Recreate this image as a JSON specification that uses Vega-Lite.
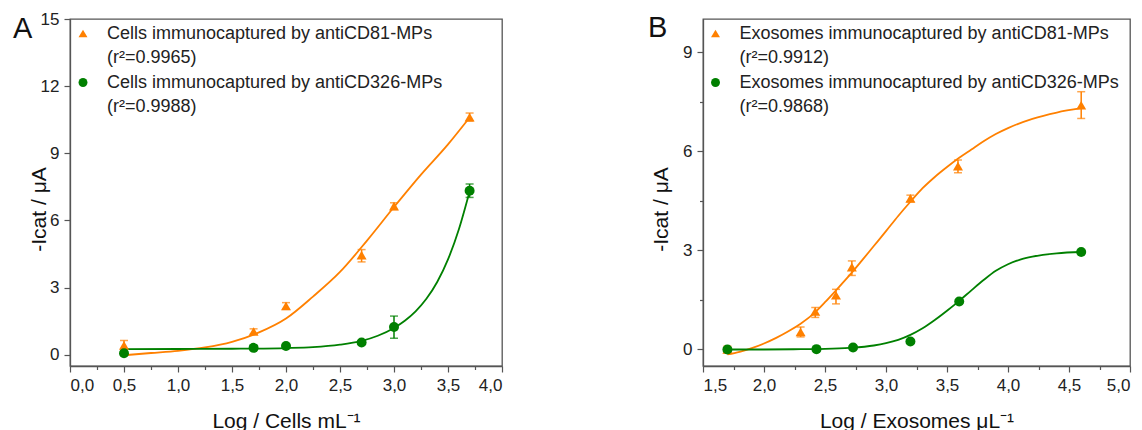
{
  "$schema": "https://vega.github.io/schema/vega-lite/v6.json",
  "background": "white",
  "padding": {"left": 12, "top": 9, "right": 5, "bottom": 0},
  "bounds": "flush",
  "spacing": 201,
  "config": {
    "font": "Liberation Sans",
    "view": {"stroke": "#555555", "strokeWidth": 1.3},
    "axis": {
      "domainColor": "#555555", "domainWidth": 1.3,
      "tickColor": "#555555", "tickWidth": 1.2,
      "labelColor": "#222222", "labelFontSize": 17, "labelPadding": 5,
      "titleColor": "#111111", "titleFontSize": 21, "titleFontWeight": "normal",
      "grid": false
    },
    "legend": {"orient": "none", "title": null, "labelFontSize": 18, "labelColor": "#222222", "labelLimit": 700, "symbolSize": 80, "symbolStrokeWidth": 0, "symbolOpacity": 1, "rowPadding": 6.5, "labelOffset": 15, "padding": 0}
  },
  "datasets": {
    "ptsA": [
      {"series": "Cells immunocaptured by antiCD81-MPs", "x": 0.5, "y": 0.42, "lo": 0.2, "hi": 0.64},
      {"series": "Cells immunocaptured by antiCD81-MPs", "x": 1.7, "y": 1.04, "lo": 0.92, "hi": 1.16},
      {"series": "Cells immunocaptured by antiCD81-MPs", "x": 2.0, "y": 2.18, "lo": 2.03, "hi": 2.33},
      {"series": "Cells immunocaptured by antiCD81-MPs", "x": 2.7, "y": 4.45, "lo": 4.15, "hi": 4.7},
      {"series": "Cells immunocaptured by antiCD81-MPs", "x": 3.0, "y": 6.64, "lo": 6.49, "hi": 6.79},
      {"series": "Cells immunocaptured by antiCD81-MPs", "x": 3.7, "y": 10.61, "lo": 10.44, "hi": 10.8},
      {"series": "Cells immunocaptured by antiCD326-MPs", "x": 0.5, "y": 0.07, "lo": null, "hi": null},
      {"series": "Cells immunocaptured by antiCD326-MPs", "x": 1.7, "y": 0.31, "lo": 0.2, "hi": 0.42},
      {"series": "Cells immunocaptured by antiCD326-MPs", "x": 2.0, "y": 0.39, "lo": null, "hi": null},
      {"series": "Cells immunocaptured by antiCD326-MPs", "x": 2.7, "y": 0.55, "lo": null, "hi": null},
      {"series": "Cells immunocaptured by antiCD326-MPs", "x": 3.0, "y": 1.24, "lo": 0.74, "hi": 1.73},
      {"series": "Cells immunocaptured by antiCD326-MPs", "x": 3.7, "y": 7.33, "lo": 7.03, "hi": 7.63}
    ],
    "fitA": [
      {"series": "Cells immunocaptured by antiCD81-MPs", "x": 0.5, "y": -0.02},
      {"series": "Cells immunocaptured by antiCD81-MPs", "x": 0.75, "y": 0.08},
      {"series": "Cells immunocaptured by antiCD81-MPs", "x": 1.0, "y": 0.18},
      {"series": "Cells immunocaptured by antiCD81-MPs", "x": 1.25, "y": 0.33},
      {"series": "Cells immunocaptured by antiCD81-MPs", "x": 1.5, "y": 0.58},
      {"series": "Cells immunocaptured by antiCD81-MPs", "x": 1.75, "y": 1.0},
      {"series": "Cells immunocaptured by antiCD81-MPs", "x": 2.0, "y": 1.62},
      {"series": "Cells immunocaptured by antiCD81-MPs", "x": 2.25, "y": 2.6},
      {"series": "Cells immunocaptured by antiCD81-MPs", "x": 2.5, "y": 3.7},
      {"series": "Cells immunocaptured by antiCD81-MPs", "x": 2.75, "y": 5.1},
      {"series": "Cells immunocaptured by antiCD81-MPs", "x": 3.0, "y": 6.6},
      {"series": "Cells immunocaptured by antiCD81-MPs", "x": 3.25, "y": 8.05},
      {"series": "Cells immunocaptured by antiCD81-MPs", "x": 3.5, "y": 9.4},
      {"series": "Cells immunocaptured by antiCD81-MPs", "x": 3.7, "y": 10.6},
      {"series": "Cells immunocaptured by antiCD326-MPs", "x": 0.5, "y": 0.25},
      {"series": "Cells immunocaptured by antiCD326-MPs", "x": 1.0, "y": 0.26},
      {"series": "Cells immunocaptured by antiCD326-MPs", "x": 1.5, "y": 0.27},
      {"series": "Cells immunocaptured by antiCD326-MPs", "x": 2.0, "y": 0.3},
      {"series": "Cells immunocaptured by antiCD326-MPs", "x": 2.25, "y": 0.34},
      {"series": "Cells immunocaptured by antiCD326-MPs", "x": 2.5, "y": 0.45},
      {"series": "Cells immunocaptured by antiCD326-MPs", "x": 2.7, "y": 0.62},
      {"series": "Cells immunocaptured by antiCD326-MPs", "x": 2.85, "y": 0.85},
      {"series": "Cells immunocaptured by antiCD326-MPs", "x": 3.0, "y": 1.2},
      {"series": "Cells immunocaptured by antiCD326-MPs", "x": 3.1, "y": 1.52},
      {"series": "Cells immunocaptured by antiCD326-MPs", "x": 3.2, "y": 1.94},
      {"series": "Cells immunocaptured by antiCD326-MPs", "x": 3.3, "y": 2.5},
      {"series": "Cells immunocaptured by antiCD326-MPs", "x": 3.4, "y": 3.25},
      {"series": "Cells immunocaptured by antiCD326-MPs", "x": 3.5, "y": 4.26},
      {"series": "Cells immunocaptured by antiCD326-MPs", "x": 3.6, "y": 5.6},
      {"series": "Cells immunocaptured by antiCD326-MPs", "x": 3.7, "y": 7.3}
    ],
    "ptsB": [
      {"series": "Exosomes immunocaptured by antiCD81-MPs", "x": 1.7, "y": 0.0, "lo": -0.1, "hi": 0.1},
      {"series": "Exosomes immunocaptured by antiCD81-MPs", "x": 2.3, "y": 0.53, "lo": 0.38, "hi": 0.68},
      {"series": "Exosomes immunocaptured by antiCD81-MPs", "x": 2.42, "y": 1.15, "lo": 0.97, "hi": 1.27},
      {"series": "Exosomes immunocaptured by antiCD81-MPs", "x": 2.59, "y": 1.64, "lo": 1.38, "hi": 1.82},
      {"series": "Exosomes immunocaptured by antiCD81-MPs", "x": 2.72, "y": 2.49, "lo": 2.24, "hi": 2.68},
      {"series": "Exosomes immunocaptured by antiCD81-MPs", "x": 3.2, "y": 4.57, "lo": 4.47, "hi": 4.67},
      {"series": "Exosomes immunocaptured by antiCD81-MPs", "x": 3.59, "y": 5.55, "lo": 5.35, "hi": 5.73},
      {"series": "Exosomes immunocaptured by antiCD81-MPs", "x": 4.6, "y": 7.39, "lo": 6.99, "hi": 7.8},
      {"series": "Exosomes immunocaptured by antiCD326-MPs", "x": 1.7, "y": 0.0, "lo": null, "hi": null},
      {"series": "Exosomes immunocaptured by antiCD326-MPs", "x": 2.43, "y": 0.01, "lo": null, "hi": null},
      {"series": "Exosomes immunocaptured by antiCD326-MPs", "x": 2.73, "y": 0.06, "lo": null, "hi": null},
      {"series": "Exosomes immunocaptured by antiCD326-MPs", "x": 3.2, "y": 0.24, "lo": null, "hi": null},
      {"series": "Exosomes immunocaptured by antiCD326-MPs", "x": 3.6, "y": 1.45, "lo": null, "hi": null},
      {"series": "Exosomes immunocaptured by antiCD326-MPs", "x": 4.6, "y": 2.95, "lo": null, "hi": null}
    ],
    "fitB": [
      {"series": "Exosomes immunocaptured by antiCD81-MPs", "x": 1.7, "y": -0.15},
      {"series": "Exosomes immunocaptured by antiCD81-MPs", "x": 1.8, "y": -0.07},
      {"series": "Exosomes immunocaptured by antiCD81-MPs", "x": 1.9, "y": 0.04},
      {"series": "Exosomes immunocaptured by antiCD81-MPs", "x": 2.0, "y": 0.18},
      {"series": "Exosomes immunocaptured by antiCD81-MPs", "x": 2.1, "y": 0.35},
      {"series": "Exosomes immunocaptured by antiCD81-MPs", "x": 2.2, "y": 0.55},
      {"series": "Exosomes immunocaptured by antiCD81-MPs", "x": 2.3, "y": 0.78},
      {"series": "Exosomes immunocaptured by antiCD81-MPs", "x": 2.4, "y": 1.06},
      {"series": "Exosomes immunocaptured by antiCD81-MPs", "x": 2.5, "y": 1.43},
      {"series": "Exosomes immunocaptured by antiCD81-MPs", "x": 2.6, "y": 1.83},
      {"series": "Exosomes immunocaptured by antiCD81-MPs", "x": 2.7, "y": 2.24},
      {"series": "Exosomes immunocaptured by antiCD81-MPs", "x": 2.8, "y": 2.68},
      {"series": "Exosomes immunocaptured by antiCD81-MPs", "x": 2.9, "y": 3.13},
      {"series": "Exosomes immunocaptured by antiCD81-MPs", "x": 3.0, "y": 3.58},
      {"series": "Exosomes immunocaptured by antiCD81-MPs", "x": 3.1, "y": 4.04},
      {"series": "Exosomes immunocaptured by antiCD81-MPs", "x": 3.2, "y": 4.47},
      {"series": "Exosomes immunocaptured by antiCD81-MPs", "x": 3.3, "y": 4.88},
      {"series": "Exosomes immunocaptured by antiCD81-MPs", "x": 3.4, "y": 5.22},
      {"series": "Exosomes immunocaptured by antiCD81-MPs", "x": 3.5, "y": 5.52},
      {"series": "Exosomes immunocaptured by antiCD81-MPs", "x": 3.6, "y": 5.8},
      {"series": "Exosomes immunocaptured by antiCD81-MPs", "x": 3.7, "y": 6.05},
      {"series": "Exosomes immunocaptured by antiCD81-MPs", "x": 3.8, "y": 6.3},
      {"series": "Exosomes immunocaptured by antiCD81-MPs", "x": 3.9, "y": 6.52},
      {"series": "Exosomes immunocaptured by antiCD81-MPs", "x": 4.0, "y": 6.7},
      {"series": "Exosomes immunocaptured by antiCD81-MPs", "x": 4.2, "y": 6.98},
      {"series": "Exosomes immunocaptured by antiCD81-MPs", "x": 4.4, "y": 7.17},
      {"series": "Exosomes immunocaptured by antiCD81-MPs", "x": 4.6, "y": 7.3},
      {"series": "Exosomes immunocaptured by antiCD326-MPs", "x": 1.7, "y": 0.0},
      {"series": "Exosomes immunocaptured by antiCD326-MPs", "x": 2.0, "y": 0.0},
      {"series": "Exosomes immunocaptured by antiCD326-MPs", "x": 2.3, "y": 0.01},
      {"series": "Exosomes immunocaptured by antiCD326-MPs", "x": 2.5, "y": 0.02},
      {"series": "Exosomes immunocaptured by antiCD326-MPs", "x": 2.7, "y": 0.05},
      {"series": "Exosomes immunocaptured by antiCD326-MPs", "x": 2.9, "y": 0.12},
      {"series": "Exosomes immunocaptured by antiCD326-MPs", "x": 3.0, "y": 0.19},
      {"series": "Exosomes immunocaptured by antiCD326-MPs", "x": 3.1, "y": 0.29},
      {"series": "Exosomes immunocaptured by antiCD326-MPs", "x": 3.2, "y": 0.44},
      {"series": "Exosomes immunocaptured by antiCD326-MPs", "x": 3.3, "y": 0.64},
      {"series": "Exosomes immunocaptured by antiCD326-MPs", "x": 3.4, "y": 0.89},
      {"series": "Exosomes immunocaptured by antiCD326-MPs", "x": 3.5, "y": 1.17},
      {"series": "Exosomes immunocaptured by antiCD326-MPs", "x": 3.6, "y": 1.47},
      {"series": "Exosomes immunocaptured by antiCD326-MPs", "x": 3.7, "y": 1.79},
      {"series": "Exosomes immunocaptured by antiCD326-MPs", "x": 3.8, "y": 2.1},
      {"series": "Exosomes immunocaptured by antiCD326-MPs", "x": 3.9, "y": 2.38},
      {"series": "Exosomes immunocaptured by antiCD326-MPs", "x": 4.0, "y": 2.58},
      {"series": "Exosomes immunocaptured by antiCD326-MPs", "x": 4.1, "y": 2.72},
      {"series": "Exosomes immunocaptured by antiCD326-MPs", "x": 4.2, "y": 2.81},
      {"series": "Exosomes immunocaptured by antiCD326-MPs", "x": 4.4, "y": 2.91},
      {"series": "Exosomes immunocaptured by antiCD326-MPs", "x": 4.6, "y": 2.95}
    ]
  },
  "hconcat": [
    {
      "width": 432,
      "height": 347,
      "title": {"text": "A", "anchor": "start", "frame": "group", "fontSize": 29, "fontWeight": "normal", "color": "#111111", "baseline": "alphabetic", "offset": -57, "dx": -57},
      "encoding": {
        "x": {"field": "x", "type": "quantitative", "scale": {"domain": [0, 4], "nice": false, "zero": false},
          "title": "Log / Cells mL⁻¹",
          "axis": {"values": [0, 0.25, 0.5, 0.75, 1, 1.25, 1.5, 1.75, 2, 2.25, 2.5, 2.75, 3, 3.25, 3.5, 3.75, 4],
            "labelExpr": "(datum.value * 2) % 1 == 0 ? replace(format(datum.value, '.1f'), '.', ',') : ''",
            "tickSize": {"condition": {"test": "(datum.value * 2) % 1 != 0", "value": 3.5}, "value": 6},
            "titlePadding": 17}},
        "color": {"field": "series", "type": "nominal",
          "scale": {"domain": ["Cells immunocaptured by antiCD81-MPs", " (r²=0.9965)", "Cells immunocaptured by antiCD326-MPs", " (r²=0.9988)"], "range": ["#ff8000", "#ffffff", "#008000", "#ffffff"]},
          "legend": {"legendX": 4, "legendY": 5.5}}
      },
      "layer": [
        {
          "data": {"name": "fitA"},
          "mark": {"type": "line", "interpolate": "monotone", "strokeWidth": 1.8},
          "encoding": {
            "y": {"field": "y", "type": "quantitative", "scale": {"domain": [-0.5, 15], "nice": false, "zero": false},
              "title": "-Icat / μA",
              "axis": {"values": [0, 1.5, 3, 4.5, 6, 7.5, 9, 10.5, 12, 13.5, 15],
                "labelExpr": "datum.value % 3 == 0 ? datum.label : ''",
                "tickSize": {"condition": {"test": "datum.value % 3 != 0", "value": 3.5}, "value": 6},
                "titleX": -21, "titleY": 190}}
          }
        },
        {
          "data": {"name": "ptsA"},
          "mark": {"type": "errorbar", "ticks": {"size": 8}, "thickness": 1.5},
          "encoding": {
            "y": {"field": "lo", "type": "quantitative", "title": "-Icat / μA"},
            "y2": {"field": "hi"}
          }
        },
        {
          "data": {"name": "ptsA"},
          "mark": {"type": "point", "filled": true, "size": 100, "opacity": 1},
          "encoding": {
            "y": {"field": "y", "type": "quantitative", "title": "-Icat / μA"},
            "shape": {"field": "series", "type": "nominal",
              "scale": {"domain": ["Cells immunocaptured by antiCD81-MPs", " (r²=0.9965)", "Cells immunocaptured by antiCD326-MPs", " (r²=0.9988)"], "range": ["triangle-up", "circle", "circle", "circle"]},
              "legend": {"legendX": 4, "legendY": 5.5}}
          }
        }
      ]
    },
    {
      "width": 427,
      "height": 347,
      "title": {"text": "B", "anchor": "start", "frame": "group", "fontSize": 29, "fontWeight": "normal", "color": "#111111", "baseline": "alphabetic", "offset": -47, "dx": -55},
      "encoding": {
        "x": {"field": "x", "type": "quantitative", "scale": {"domain": [1.5, 5], "nice": false, "zero": false},
          "title": "Log / Exosomes μL⁻¹",
          "axis": {"values": [1.5, 1.75, 2, 2.25, 2.5, 2.75, 3, 3.25, 3.5, 3.75, 4, 4.25, 4.5, 4.75, 5],
            "labelExpr": "(datum.value * 2) % 1 == 0 ? replace(format(datum.value, '.1f'), '.', ',') : ''",
            "tickSize": {"condition": {"test": "(datum.value * 2) % 1 != 0", "value": 3.5}, "value": 6},
            "titlePadding": 17}},
        "color": {"field": "series", "type": "nominal",
          "scale": {"domain": ["Exosomes immunocaptured by antiCD81-MPs", "(r²=0.9912)", "Exosomes immunocaptured by antiCD326-MPs", "(r²=0.9868)"], "range": ["#ff8000", "#ffffff", "#008000", "#ffffff"]},
          "legend": {"legendX": 3.5, "legendY": 5.5}}
      },
      "layer": [
        {
          "data": {"name": "fitB"},
          "mark": {"type": "line", "interpolate": "monotone", "strokeWidth": 1.8},
          "encoding": {
            "y": {"field": "y", "type": "quantitative", "scale": {"domain": [-0.5, 10], "nice": false, "zero": false},
              "title": "-Icat / μA",
              "axis": {"values": [0, 1.5, 3, 4.5, 6, 7.5, 9],
                "labelExpr": "datum.value % 3 == 0 ? datum.label : ''",
                "tickSize": {"condition": {"test": "datum.value % 3 != 0", "value": 3.5}, "value": 6},
                "titleX": -32, "titleY": 190}}
          }
        },
        {
          "data": {"name": "ptsB"},
          "mark": {"type": "errorbar", "ticks": {"size": 8}, "thickness": 1.5},
          "encoding": {
            "y": {"field": "lo", "type": "quantitative", "title": "-Icat / μA"},
            "y2": {"field": "hi"}
          }
        },
        {
          "data": {"name": "ptsB"},
          "mark": {"type": "point", "filled": true, "size": 100, "opacity": 1},
          "encoding": {
            "y": {"field": "y", "type": "quantitative", "title": "-Icat / μA"},
            "shape": {"field": "series", "type": "nominal",
              "scale": {"domain": ["Exosomes immunocaptured by antiCD81-MPs", "(r²=0.9912)", "Exosomes immunocaptured by antiCD326-MPs", "(r²=0.9868)"], "range": ["triangle-up", "circle", "circle", "circle"]},
              "legend": {"legendX": 3.5, "legendY": 5.5}}
          }
        }
      ]
    }
  ],
  "resolve": {
    "scale": {"x": "independent", "y": "independent", "color": "independent", "shape": "independent"},
    "legend": {"color": "independent", "shape": "independent"}
  }
}
